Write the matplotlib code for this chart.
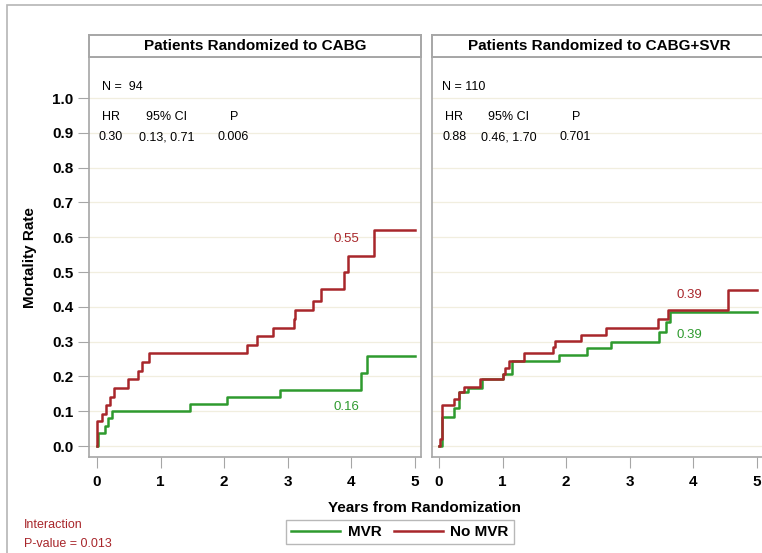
import matplotlib.pyplot as plt
from matplotlib.lines import Line2D
from matplotlib.patches import Rectangle

plt.rcParams['font.family'] = ['Liberation Sans Narrow', 'Liberation Sans', 'DejaVu Sans']

RED = '#a8262b'
GREEN = '#2e9a2e'
GRID = '#f1eedf'
FRAME = '#a6a6a6'

# CABG panel
cabg_nomvr_t = [0, 0.0, 0.08, 0.14, 0.21, 0.26, 0.49, 0.65, 0.70, 0.82, 2.36, 2.52, 2.76,
                3.09, 3.12, 3.39, 3.52, 3.88, 3.94, 4.36, 5.0]
cabg_nomvr_y = [0, 0.072, 0.093, 0.118, 0.142, 0.168, 0.192, 0.216, 0.242, 0.266, 0.29, 0.315,
                0.34, 0.364, 0.39, 0.417, 0.452, 0.50, 0.546, 0.62, 0.62]
cabg_mvr_t = [0, 0.016, 0.12, 0.17, 0.23, 1.46, 2.04, 2.87, 4.15, 4.24, 5.0]
cabg_mvr_y = [0, 0.038, 0.058, 0.08, 0.10, 0.12, 0.14, 0.16, 0.21, 0.26, 0.26]

# CABG+SVR panel
svr_nomvr_t = [0, 0.02, 0.05, 0.24, 0.31, 0.39, 0.64, 1.0, 1.04, 1.10, 1.33, 1.79, 1.83,
               2.23, 2.62, 3.44, 3.60, 4.55, 5.0]
svr_nomvr_y = [0, 0.02, 0.118, 0.135, 0.154, 0.17, 0.194, 0.207, 0.224, 0.245, 0.266, 0.284,
               0.303, 0.32, 0.34, 0.364, 0.39, 0.447, 0.447]
svr_mvr_t = [0, 0.05, 0.23, 0.31, 0.46, 0.68, 1.0, 1.15, 1.88, 2.32, 2.70, 3.46, 3.57, 3.63, 5.0]
svr_mvr_y = [0, 0.082, 0.11, 0.154, 0.168, 0.192, 0.207, 0.245, 0.262, 0.282, 0.298, 0.327,
             0.356, 0.385, 0.385]

yticks = [0.0, 0.1, 0.2, 0.3, 0.4, 0.5, 0.6, 0.7, 0.8, 0.9, 1.0]
xticks = [0, 1, 2, 3, 4, 5]

panels = [
    dict(title='Patients Randomized to CABG', n='N =  94', hr='0.30', ci='0.13, 0.71', p='0.006',
         nomvr=(cabg_nomvr_t, cabg_nomvr_y), mvr=(cabg_mvr_t, cabg_mvr_y),
         lab_red=('0.55', 3.92, 0.595), lab_green=('0.16', 3.92, 0.112),
         nx=0.08, hrx=0.08, vx=0.03,
         pos=[89 / 762, 0.1736, 332 / 762, 0.7233], xlim=(-0.126, 5.094)),
    dict(title='Patients Randomized to CABG+SVR', n='N = 110', hr='0.88', ci='0.46, 1.70', p='0.701',
         nomvr=(svr_nomvr_t, svr_nomvr_y), mvr=(svr_mvr_t, svr_mvr_y),
         lab_red=('0.39', 3.93, 0.434), lab_green=('0.39', 3.93, 0.319),
         nx=0.05, hrx=0.09, vx=0.05,
         pos=[432 / 762, 0.1736, 334 / 762, 0.7233], xlim=(-0.11, 5.14)),
]

fig = plt.figure(figsize=(7.62, 5.53), dpi=100)
fig.patches.append(Rectangle((7 / 762, -0.1), 1.2, 1.1 - 6 / 553 + 0.001, transform=fig.transFigure,
                             fill=False, edgecolor='#b5b5b5', linewidth=1.2))

for i, pn in enumerate(panels):
    ax = fig.add_axes(pn['pos'])
    ax.set_xlim(*pn['xlim'])
    ax.set_ylim(-0.0316, 1.118)
    for yv in yticks:
        ax.axhline(yv, color=GRID, lw=0.9, zorder=0)
    ax.step(pn['mvr'][0], pn['mvr'][1], where='post', color=GREEN, lw=1.8, zorder=3)
    ax.step(pn['nomvr'][0], pn['nomvr'][1], where='post', color=RED, lw=1.8, zorder=4)
    for s in ax.spines.values():
        s.set_color(FRAME)
        s.set_linewidth(1.2)
    ax.set_xticks(xticks)
    ax.set_xticklabels([str(v) for v in xticks], fontsize=11, fontweight='bold')
    ax.tick_params(axis='x', length=8, color=FRAME, pad=5)
    if i == 0:
        ax.set_yticks(yticks)
        ax.set_yticklabels(['%.1f' % v for v in yticks], fontsize=11, fontweight='bold')
        ax.tick_params(axis='y', length=8, color=FRAME, pad=3)
    else:
        ax.set_yticks([])
    txt = dict(fontsize=9, va='center', family=['Liberation Sans'])
    ax.text(pn['nx'], 1.032, pn['n'], **txt)
    ax.text(pn['hrx'], 0.945, 'HR', **txt)
    ax.text(0.77, 0.945, '95% CI', **txt)
    ax.text(2.16, 0.945, 'P', ha='center', **txt)
    ax.text(pn['vx'], 0.888, pn['hr'], **txt)
    ax.text(0.66, 0.888, pn['ci'], **txt)
    ax.text(1.9, 0.888, pn['p'], **txt)
    t, xx, yy = pn['lab_red']
    ax.text(xx, yy, t, color=RED, fontsize=9.5, ha='center', va='center', family=['Liberation Sans'])
    t, xx, yy = pn['lab_green']
    ax.text(xx, yy, t, color=GREEN, fontsize=9.5, ha='center', va='center', family=['Liberation Sans'])

    hx = fig.add_axes([pn['pos'][0], 0.8969, pn['pos'][2], 0.0398])
    hx.set_xticks([])
    hx.set_yticks([])
    for s in hx.spines.values():
        s.set_color(FRAME)
        s.set_linewidth(1.4)
    hx.text(0.5, 0.5, pn['title'], ha='center', va='center', fontsize=11, fontweight='bold',
            family=['Liberation Sans'])

fig.text(30 / 762, 1 - 258 / 553, 'Mortality Rate', rotation=90, ha='center', va='center',
         fontsize=11, fontweight='bold')
fig.text(424 / 762, 1 - 508 / 553, 'Years from Randomization', ha='center', va='center',
         fontsize=11, fontweight='bold')
fig.text(24 / 762, 1 - 525 / 553, 'Interaction', color=RED, fontsize=9, va='center')
fig.text(24 / 762, 1 - 544 / 553, 'P-value = 0.013', color=RED, fontsize=9, va='center')

handles = [Line2D([], [], color=GREEN, lw=1.8), Line2D([], [], color=RED, lw=1.8)]
leg = fig.legend(handles, ['MVR', 'No MVR'], loc='center', bbox_to_anchor=(400 / 762, 1 - 532 / 553),
                 ncol=2, fancybox=False, edgecolor=FRAME, handlelength=3.2, columnspacing=0.8,
                 handletextpad=0.5, borderpad=0.35, prop={'weight': 'bold', 'size': 11})
leg.get_frame().set_linewidth(1.0)

fig.savefig('out.png', dpi=100)
